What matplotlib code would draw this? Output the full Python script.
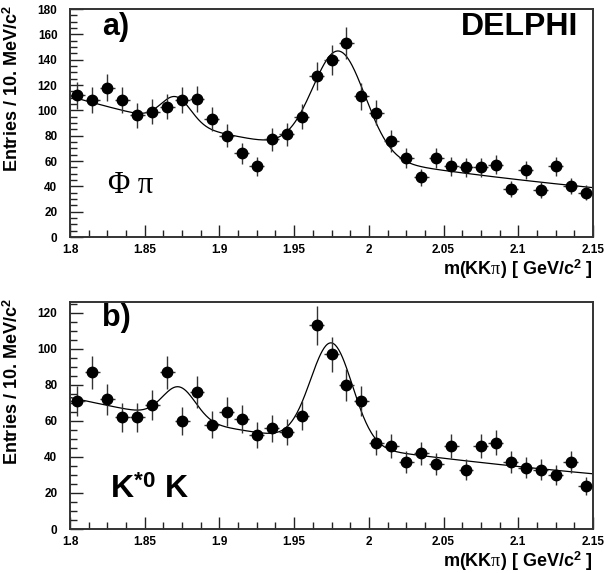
import numpy as np
import matplotlib
matplotlib.use("Agg")
import matplotlib.pyplot as plt
from matplotlib.ticker import MultipleLocator

# ---- data ----
bin_centers = [1.805, 1.815, 1.825, 1.835, 1.845, 1.855, 1.865, 1.875, 1.885, 1.895,
               1.905, 1.915, 1.925, 1.935, 1.945, 1.955, 1.965, 1.975, 1.985, 1.995,
               2.005, 2.015, 2.025, 2.035, 2.045, 2.055, 2.065, 2.075, 2.085, 2.095,
               2.105, 2.115, 2.125, 2.135, 2.145]
bin_half_width = 0.005

phi_pi_counts = [112, 108, 118, 108, 96, 99, 103, 108, 109, 93,
                 80, 66, 56, 77, 81, 95, 127, 140, 153, 111,
                 98, 76, 62, 47, 62, 56, 55, 55, 57, 38,
                 53, 37, 56, 40, 35]
phi_pi_errors = [10.6, 10.4, 10.9, 10.4, 9.8, 9.9, 10.1, 10.4, 10.4, 9.6,
                 8.9, 8.1, 7.5, 8.8, 9.0, 9.7, 11.3, 11.8, 12.4, 10.5,
                 9.9, 8.7, 7.9, 6.9, 7.9, 7.5, 7.4, 7.4, 7.5, 6.2,
                 7.3, 6.1, 7.5, 6.3, 5.9]

kstar_k_counts = [71, 87, 72, 62, 62, 69, 87, 60, 76, 58,
                  65, 61, 52, 56, 54, 63, 113, 97, 80, 71,
                  48, 46, 37, 42, 36, 46, 33, 46, 48, 37,
                  34, 33, 30, 37, 24]
kstar_k_errors = [8.4, 9.3, 8.5, 7.9, 7.9, 8.3, 9.3, 7.7, 8.7, 7.6,
                  8.1, 7.8, 7.2, 7.5, 7.3, 7.9, 10.6, 9.8, 8.9, 8.4,
                  6.9, 6.8, 6.1, 6.5, 6.0, 6.8, 5.7, 6.8, 6.9, 6.1,
                  5.8, 5.7, 5.5, 6.1, 4.9]

# fit parameters: exponential background + two gaussians (D+ and Ds)
phi_pi_fit = dict(bg_norm=111.0, bg_slope=2.99, m1=1.871, a1=21.0, s1=0.010,
                  m2=1.980, a2=82.0, s2=0.0175)
kstar_k_fit = dict(bg_norm=73.0, bg_slope=2.48, m1=1.873, a1=18.0, s1=0.011,
                   m2=1.975, a2=56.0, s2=0.0140)

x_ticks = [1.8, 1.85, 1.9, 1.95, 2.0, 2.05, 2.1, 2.15]
x_tick_labels = ["1.8", "1.85", "1.9", "1.95", "2", "2.05", "2.1", "2.15"]


def fit_curve(x, p):
    bg = p["bg_norm"] * np.exp(-p["bg_slope"] * (x - 1.8))
    g1 = p["a1"] * np.exp(-0.5 * ((x - p["m1"]) / p["s1"]) ** 2)
    g2 = p["a2"] * np.exp(-0.5 * ((x - p["m2"]) / p["s2"]) ** 2)
    return bg + g1 + g2


plt.rcParams["font.family"] = ["Liberation Sans", "DejaVu Sans"]
plt.rcParams["mathtext.fontset"] = "custom"
plt.rcParams["mathtext.rm"] = "Liberation Sans:bold"
plt.rcParams["mathtext.it"] = "Liberation Serif"
plt.rcParams["mathtext.bf"] = "Liberation Sans:bold"

W, H = 605, 573
fig = plt.figure(figsize=(W / 100, H / 100), dpi=100)
L, R = 70 / W, 593 / W
ax1 = fig.add_axes([L, 1 - 237 / H, R - L, (237 - 9) / H])
ax2 = fig.add_axes([L, 1 - 529 / H, R - L, (529 - 302) / H])


def style(ax, ymax, counts, errors, fitp):
    ax.errorbar(bin_centers, counts, yerr=errors, xerr=bin_half_width,
                fmt="o", color="black", ecolor="#333333", elinewidth=1.0,
                markersize=7.5, capsize=0, zorder=3)
    xf = np.linspace(1.8, 2.15, 600)
    ax.plot(xf, fit_curve(xf, fitp), color="black", lw=0.9, zorder=2)
    ax.set_xlim(1.8, 2.15)
    ax.set_ylim(0, ymax)
    ax.xaxis.set_major_locator(plt.FixedLocator(x_ticks))
    ax.set_xticklabels(x_tick_labels)
    ax.xaxis.set_minor_locator(MultipleLocator(0.0125))
    ax.yaxis.set_major_locator(MultipleLocator(20))
    ax.yaxis.set_minor_locator(MultipleLocator(5))
    ax.tick_params(which="both", direction="in", top=False, right=False,
                   colors="#222222", labelcolor="black", width=1.0)
    ax.tick_params(which="major", length=9, labelsize=8.5)
    ax.tick_params(axis="x", which="major", pad=5)
    ax.tick_params(axis="y", which="major", pad=9)
    ax.tick_params(which="minor", length=5)
    for lab in ax.get_xticklabels() + ax.get_yticklabels():
        lab.set_fontweight("bold")
    for s in ax.spines.values():
        s.set_linewidth(1.4)
        s.set_color("#333333")
    ax.set_ylabel(r"Entries / 10. MeV/c$^{2}$", fontsize=13, fontweight="bold",
                  loc="top")
    ax.yaxis.set_label_coords(-0.092, 1.018)
    ax.set_xlabel(r"m(KK$\mathit{\pi}$) [ GeV/c$^{2}$ ]", fontsize=13,
                  fontweight="bold", loc="right", labelpad=1)


style(ax1, 180, phi_pi_counts, phi_pi_errors, phi_pi_fit)
style(ax2, 126, kstar_k_counts, kstar_k_errors, kstar_k_fit)

ax1.text(0.061, 0.923, "a)", transform=ax1.transAxes, fontsize=22,
         fontweight="bold", ha="left", va="center")
ax1.text(0.971, 0.923, "DELPHI", transform=ax1.transAxes, fontsize=23,
         fontweight="bold", ha="right", va="center")
ax1.text(0.073, 0.224, "\u03a6 \u03c0", transform=ax1.transAxes, fontsize=22,
         family="Liberation Serif", ha="left", va="center")

ax2.text(0.061, 0.93, "b)", transform=ax2.transAxes, fontsize=22,
         fontweight="bold", ha="left", va="center")
ax2.text(0.076, 0.17, r"K$^{*0}$ K", transform=ax2.transAxes, fontsize=23,
         fontweight="bold", ha="left", va="center")

fig.savefig("out.png", dpi=100, facecolor="white")
